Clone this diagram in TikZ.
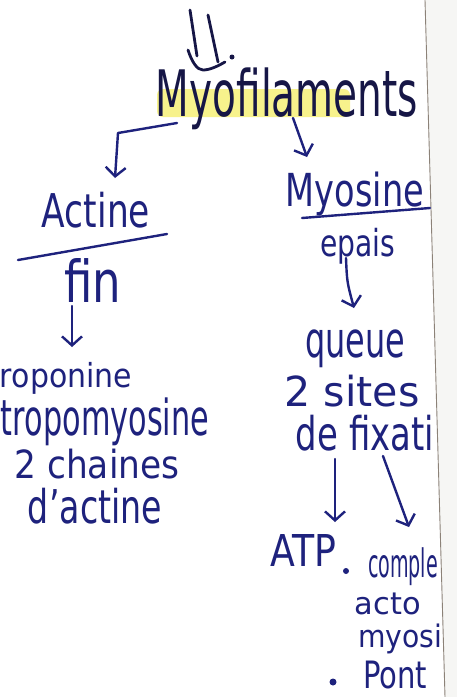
\documentclass[tikz,border=0pt]{standalone}
\usepackage{fontspec}
\setmainfont{DejaVu Sans}
\usetikzlibrary{arrows.meta,calc}
\definecolor{ink}{RGB}{30,34,125}
\definecolor{inkdark}{RGB}{22,22,70}
\definecolor{hl}{RGB}{246,240,120}
\definecolor{edge}{RGB}{140,130,120}
\definecolor{paperout}{RGB}{246,246,244}
\newcommand{\hw}[3]{\resizebox*{#1pt}{#2pt}{#3}}
\begin{document}
\begin{tikzpicture}[x=1pt,y=-1pt,
  hand/.style={text=ink, font=\fontsize{28}{30}\selectfont, inner sep=0pt},
  ln/.style={draw=ink, line width=2.4pt, line cap=round, line join=round},
  arr/.style={ln, -{Straight Barb[length=9pt,width=20pt,line width=2.4pt]}}]
\useasboundingbox (0,0) rectangle (457,697);
\fill[white] (0,0) rectangle (457,697);
\fill[paperout] (425,0) -- (457,0) -- (457,697) -- (445,697) -- cycle;
\draw[edge, line width=0.9pt] (425,0) -- (445,697);
% highlight
\fill[hl, opacity=0.85, rounded corners=6pt] (157,89) rectangle (350,117);
% nodes
\node[hand, text=inkdark] (myo) at (287,99) {\hw{262}{62}{Myofilaments}};
\node[hand] (actine) at (96,210) {\hw{108}{36}{Actine}};
\node[hand] (myosine) at (355,194) {\hw{138}{44}{Myosine}};
\node[hand] (epais) at (358,246) {\hw{75}{36}{epais}};
\node[hand] (fin) at (93,280) {\hw{57}{44}{fin}};
\node[hand] (tropo) at (66,378) {\hw{132}{32}{roponine}};
\node[hand] (tropomyo) at (105,422) {\hw{208}{48}{tropomyosine}};
\node[hand] (chaines) at (97,464) {\hw{165}{30}{2 chaines}};
\node[hand] (dactine) at (95,506) {\hw{134}{36}{d'actine}};
\node[hand] (queue) at (355,349) {\hw{100}{38}{queue}};
\node[hand] (sites) at (352,391) {\hw{135}{32}{2 sites}};
\node[hand] (fix) at (365,433) {\hw{138}{36}{de fixati}};
\node[hand] (atp) at (303,550) {\hw{66}{32}{ATP}};
\node[hand] (comple) at (403,567) {\hw{70}{38}{comple}};
\node[hand] (acto) at (388,604) {\hw{66}{22}{acto}};
\node[hand] (myosi) at (400,639) {\hw{84}{30}{myosi}};
\node[hand] (pont) at (395,675) {\hw{64}{28}{Pont}};
% bullets
\fill[ink] (346,571) circle (3pt);
\fill[ink] (333,682) circle (3.5pt);
\fill[inkdark] (232,57) circle (2.5pt);
% top double arrow
\coordinate (topL) at (190,10);
\coordinate (topR) at (208,15);
\draw[ln, draw=inkdark, line width=2.8pt] (topL) -- (197,56);
\draw[ln, draw=inkdark, line width=2.8pt] (topR) -- (218,62);
\draw[ln, draw=inkdark, line width=2.8pt] (188,50) .. controls (192,62) and (197,70) .. (203,70) .. controls (210,70) and (218,66) .. (225,62);
% connectors
\draw[arr] ($(myo)+(-110,24)$) -- (118,133) -- ($(actine)+(19,-32)$);
\draw[arr] ($(myo)+(6,19)$) -- ($(myosine)+(-48,-37)$);
\draw[ln] ($(actine)+(-78,50)$) -- ($(actine)+(71,24)$);
\draw[ln] ($(myosine)+(-53,24)$) -- ($(myosine)+(75,14)$);
\draw[arr] ($(fin)+(-21,26)$) -- ($(tropo)+(6,-31)$);
\draw[arr] ($(epais)+(-12,12)$) .. controls (347,282) .. ($(queue)+(-1,-41)$);
\draw[arr] ($(fix)+(-30,26)$) -- ($(atp)+(32,-28)$);
\draw[arr] ($(fix)+(18,23)$) -- ($(comple)+(6,-40)$);
\end{tikzpicture}
\end{document}
